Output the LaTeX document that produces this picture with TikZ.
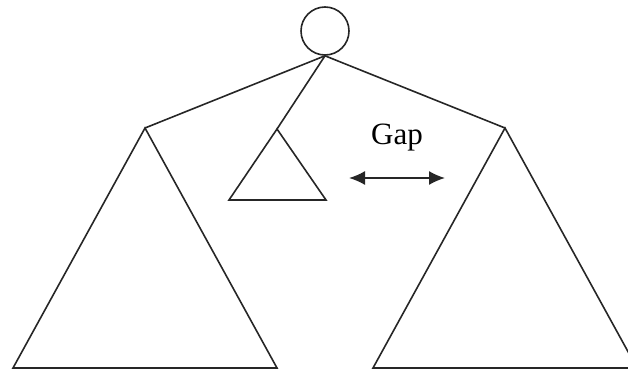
\documentclass[tikz,border=0pt]{standalone}
\usepackage{fontspec}
\setmainfont{Liberation Serif}
\usetikzlibrary{arrows.meta}
\begin{document}
\begin{tikzpicture}[x=1pt, y=-1pt, line width=1.6pt, draw=black!85]
            \useasboundingbox (0,0) rectangle (628,369);
            \node[circle, draw, minimum size=48pt, inner sep=0pt] (root) at (325,31) {};
            \coordinate (lapex) at (145,128);
            \coordinate (rapex) at (505,128);
            \coordinate (sapex) at (277,129);
            \draw (lapex) -- (root.south) -- (rapex);
            \draw (root.south) -- (sapex);
            \draw (lapex) -- (13,368) -- (277,368) -- cycle;
            \draw (rapex) -- (373,368) -- (637,368) -- cycle;
            \draw (sapex) -- (229,200) -- (326,200) -- cycle;
            \node[font=\fontsize{31}{34}\selectfont, anchor=base] (gap) at (397,144) {Gap};
            \draw[{Latex[length=16pt, width=14pt]}-{Latex[length=16pt, width=14pt]}] (349,178) -- (445,178);
        \end{tikzpicture}
\end{document}
